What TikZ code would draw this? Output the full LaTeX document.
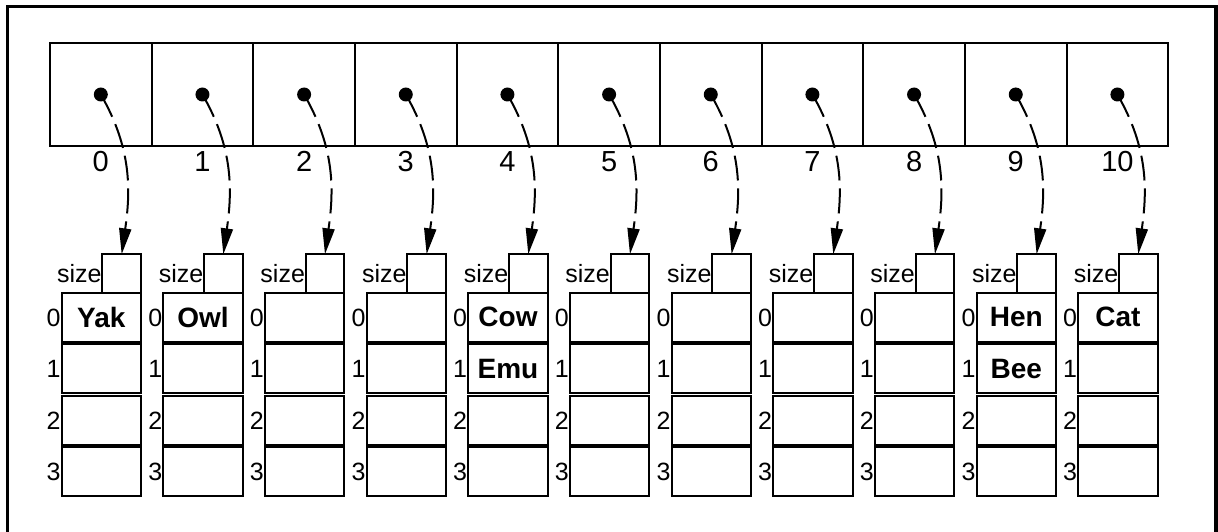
\documentclass[tikz,border=0pt]{standalone}
\usepackage{fontspec}
\setmainfont{Liberation Sans}
\usetikzlibrary{arrows.meta}
\begin{document}
\begin{tikzpicture}[x=1pt,y=-1pt,
  cellbox/.style={draw,line width=2pt,minimum width=101.66pt,minimum height=102.4pt,inner sep=0pt,outer sep=0pt},
  sizebox/.style={draw,line width=2pt,minimum width=38.7pt,minimum height=38.4pt,inner sep=0pt,outer sep=0pt},
  rowbox/.style={draw,line width=2pt,minimum width=79.3pt,minimum height=49pt,inner sep=0pt,outer sep=0pt},
  animal/.style={inner sep=0pt,font=\fontsize{28}{30}\selectfont\bfseries},
  topidx/.style={anchor=base,inner sep=0pt,font=\fontsize{29}{31}\selectfont},
  rowidx/.style={anchor=east,inner sep=1pt,text height=18pt,text depth=0pt,font=\fontsize{25}{27}\selectfont},
  sizelbl/.style={anchor=east,inner sep=0.5pt,font=\fontsize{25}{27}\selectfont},
  ptrdot/.style={circle,fill=black,minimum size=14pt,inner sep=0pt,outer sep=0pt},
  ptr/.style={line width=2pt,dash pattern=on 25pt off 8pt,-{Triangle[length=26pt,width=12pt]}},
  frame/.style={line width=3.8pt}
]
\clip (0,0) rectangle (1218,532);
\draw[frame] (7.5,6.5) rectangle (1215.6,560);
\foreach \i in {0,...,10}{
  \pgfmathsetmacro{\ox}{50+101.66*\i}
  \node[cellbox] (t\i) at (\ox+50.83,94.5) {};
  \node[topidx] (ti\i) at (\ox+50.8,171.5) {\i};
  \coordinate (c\i) at (\ox+50.8,94.5);
  \node[sizebox] (s\i) at (\ox+71.65,273.5) {};
  \node[sizelbl] (sl\i) at (s\i.west) {size};
  \foreach \j in {0,...,3}{
    \node[rowbox] (r\i-\j) at (\ox+51.35,317.2+51.5*\j) {};
    \node[rowidx] (ri\i-\j) at (r\i-\j.west) {\j};
  }
  \draw[ptr] (c\i) to[out=-60,in=82] (s\i.north);
  \node[ptrdot] (d\i) at (c\i) {};
}
\node[animal] (n0) at (r0-0) {Yak};
\node[animal] (n1) at (r1-0) {Owl};
\node[animal] (n4a) at (r4-0) {Cow};
\node[animal] (n4b) at (r4-1) {Emu};
\node[animal] (n9a) at (r9-0) {Hen};
\node[animal] (n9b) at (r9-1) {Bee};
\node[animal] (n10) at (r10-0) {Cat};
\end{tikzpicture}
\end{document}
